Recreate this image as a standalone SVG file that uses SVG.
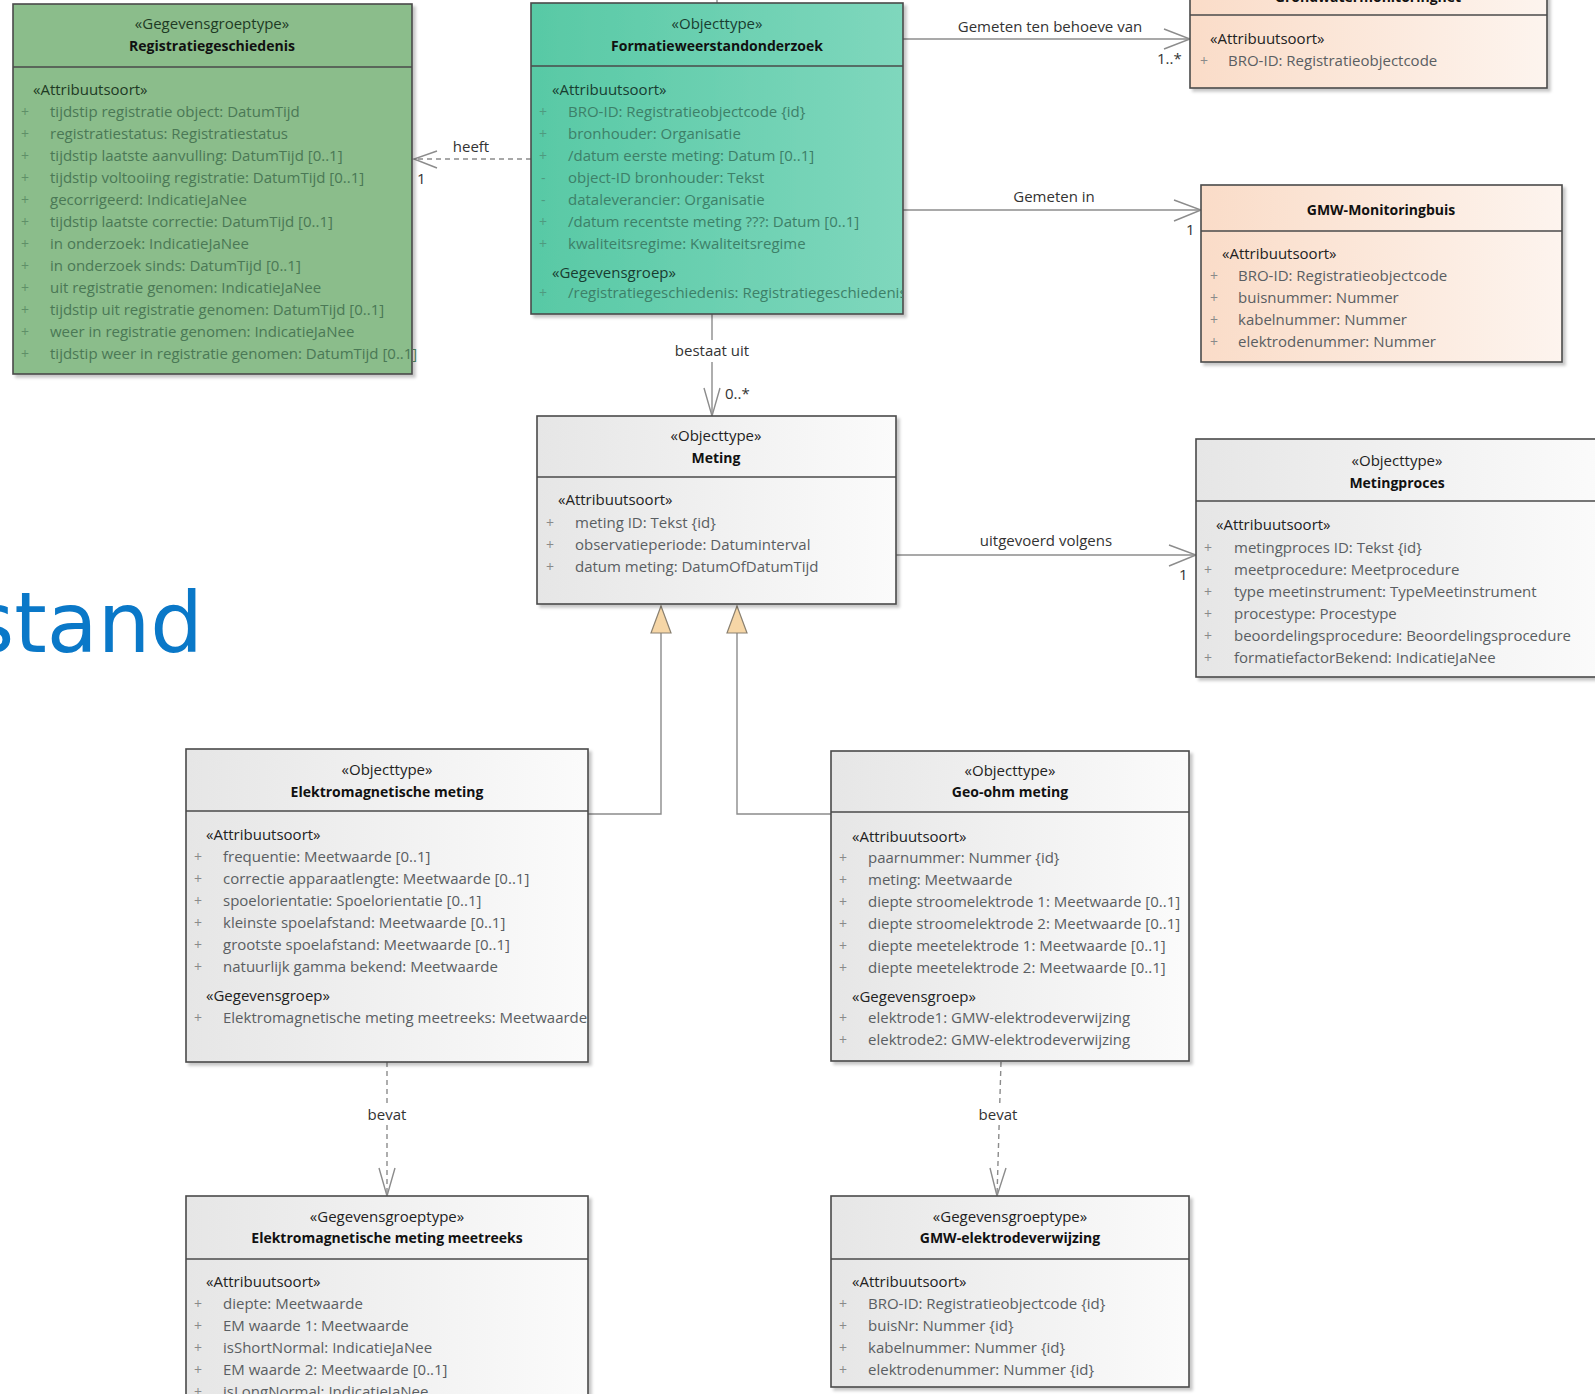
<svg xmlns="http://www.w3.org/2000/svg" width="1595" height="1394" viewBox="0 0 1595 1394">
  <defs>
    <linearGradient id="gGray" x1="0" y1="0" x2="1" y2="0">
      <stop offset="0" stop-color="#e6e6e6"/>
      <stop offset="1" stop-color="#fbfbfb"/>
    </linearGradient>
    <linearGradient id="gTeal" x1="0" y1="0" x2="1" y2="0">
      <stop offset="0" stop-color="#58c9a5"/>
      <stop offset="1" stop-color="#7fd7bd"/>
    </linearGradient>
    <linearGradient id="gPeach" x1="0" y1="0" x2="1" y2="0">
      <stop offset="0" stop-color="#fadcc8"/>
      <stop offset="1" stop-color="#fdf4ee"/>
    </linearGradient>
    <filter id="shadow" x="-5%" y="-5%" width="115%" height="115%">
      <feDropShadow dx="3" dy="3" stdDeviation="1.8" flood-color="#000" flood-opacity="0.22"/>
    </filter>
    <clipPath id="clipForm"><rect x="531" y="0" width="372" height="320"/></clipPath>
  </defs>
  <style>
    text { font-family: "Open Sans", "Noto Sans", "DejaVu Sans", sans-serif; }
    .box { stroke: #4a4a4a; stroke-width: 1.6; filter: url(#shadow); }
    .sep { stroke: #4a4a4a; stroke-width: 1.5; }
    .st { font-size: 15px; fill: #222; text-anchor: middle; }
    .nm { font-size: 14px; font-weight: bold; fill: #111; text-anchor: middle; }
    .sec { font-size: 15px; fill: #222; }
    .at { font-size: 15px; fill: #5a5e62; }
    .pl { font-size: 14px; fill: #8a8a8a; }
    .green .at { fill: #4a7855; }
    .green .pl { fill: #5f8f68; }
    .green .sec, .green .st { fill: #1e3a24; }
    .teal .at { fill: #3d8068; }
    .teal .pl { fill: #4f9a80; }
    .teal .sec, .teal .st { fill: #183d31; }
    .lbl { font-size: 15px; fill: #333; }
    .mid { text-anchor: middle; }
    .lblbg { fill: #ffffff; }
    .ln { stroke: #8c8c8c; stroke-width: 1.4; fill: none; }
    .dash { stroke-dasharray: 5 4; }
    .gen { fill: #f6d6a6; stroke: #8a8070; stroke-width: 1.2; }
    .title { font-family: "DejaVu Sans", Verdana, sans-serif; font-size: 83px; fill: #0a78c8; }
  </style>

  <rect width="1595" height="1394" fill="#ffffff"/>

  <!-- slide title, cut at the left edge -->
  <text class="title" x="203" y="652" text-anchor="end">stand</text>

  <!-- connectors -->
  <g id="connectors">
    <!-- stub above Formatieweerstandonderzoek -->
    <line class="ln" x1="717" y1="0" x2="717" y2="3"/>
    <!-- heeft -->
    <line class="ln dash" x1="531" y1="159" x2="414" y2="159"/>
    <polyline class="ln" points="437,151 414,159 437,168"/>
    <text class="lbl mid" x="471" y="152">heeft</text>
    <text class="lbl" x="417" y="184">1</text>
    <!-- Gemeten ten behoeve van -->
    <line class="ln" x1="903" y1="39" x2="1190" y2="39"/>
    <polyline class="ln" points="1164,29 1190,39 1164,49"/>
    <text class="lbl mid" x="1050" y="32">Gemeten ten behoeve van</text>
    <text class="lbl" x="1157" y="64">1..*</text>
    <!-- Gemeten in -->
    <line class="ln" x1="903" y1="210" x2="1201" y2="210"/>
    <polyline class="ln" points="1174,200 1201,210 1174,221"/>
    <text class="lbl mid" x="1054" y="202">Gemeten in</text>
    <text class="lbl" x="1186" y="235">1</text>
    <!-- bestaat uit -->
    <line class="ln" x1="712" y1="314" x2="712" y2="416"/>
    <polyline class="ln" points="704,388 712,416 720,388"/>
    <rect class="lblbg" x="674" y="340" width="76" height="22"/>
    <text class="lbl mid" x="712" y="356">bestaat uit</text>
    <text class="lbl" x="725" y="399">0..*</text>
    <!-- uitgevoerd volgens -->
    <line class="ln" x1="896" y1="555" x2="1196" y2="555"/>
    <polyline class="ln" points="1169,545 1196,555 1169,566"/>
    <text class="lbl mid" x="1046" y="546">uitgevoerd volgens</text>
    <text class="lbl" x="1179" y="580">1</text>
    <!-- generalisations -->
    <polyline class="ln" points="588,814 661,814 661,633"/>
    <polygon class="gen" points="661,606 651,633 671,633"/>
    <polyline class="ln" points="831,814 737,814 737,633"/>
    <polygon class="gen" points="737,606 727,633 747,633"/>
    <!-- bevat (left) -->
    <line class="ln dash" x1="387" y1="1062" x2="387" y2="1196"/>
    <polyline class="ln" points="379,1168 387,1196 395,1168"/>
    <rect class="lblbg" x="366" y="1105" width="42" height="20"/>
    <text class="lbl mid" x="387" y="1120">bevat</text>
    <!-- bevat (right) -->
    <line class="ln dash" x1="1001" y1="1062" x2="997" y2="1196"/>
    <polyline class="ln" points="990,1168 997,1196 1006,1168"/>
    <rect class="lblbg" x="977" y="1105" width="42" height="20"/>
    <text class="lbl mid" x="998" y="1120">bevat</text>
  </g>

  <!-- Registratiegeschiedenis -->
  <g id="registratiegeschiedenis" class="green">
    <rect class="box" x="13" y="4" width="399" height="370" fill="#8bbd8b"/>
    <line class="sep" x1="13" y1="67" x2="412" y2="67"/>
    <text class="st" x="212" y="29">«Gegevensgroeptype»</text>
    <text class="nm" x="212" y="51">Registratiegeschiedenis</text>
    <text class="sec" x="33" y="95">«Attribuutsoort»</text>
    <g class="pl">
      <text x="21" y="117">+</text><text x="21" y="139">+</text><text x="21" y="161">+</text>
      <text x="21" y="183">+</text><text x="21" y="205">+</text><text x="21" y="227">+</text>
      <text x="21" y="249">+</text><text x="21" y="271">+</text><text x="21" y="293">+</text>
      <text x="21" y="315">+</text><text x="21" y="337">+</text><text x="21" y="359">+</text>
    </g>
    <g class="at">
      <text x="50" y="117">tijdstip registratie object: DatumTijd</text>
      <text x="50" y="139">registratiestatus: Registratiestatus</text>
      <text x="50" y="161">tijdstip laatste aanvulling: DatumTijd [0..1]</text>
      <text x="50" y="183">tijdstip voltooiing registratie: DatumTijd [0..1]</text>
      <text x="50" y="205">gecorrigeerd: IndicatieJaNee</text>
      <text x="50" y="227">tijdstip laatste correctie: DatumTijd [0..1]</text>
      <text x="50" y="249">in onderzoek: IndicatieJaNee</text>
      <text x="50" y="271">in onderzoek sinds: DatumTijd [0..1]</text>
      <text x="50" y="293">uit registratie genomen: IndicatieJaNee</text>
      <text x="50" y="315">tijdstip uit registratie genomen: DatumTijd [0..1]</text>
      <text x="50" y="337">weer in registratie genomen: IndicatieJaNee</text>
      <text x="50" y="359">tijdstip weer in registratie genomen: DatumTijd [0..1]</text>
    </g>
  </g>

  <!-- Formatieweerstandonderzoek -->
  <g id="formatieweerstandonderzoek" class="teal">
    <rect class="box" x="531" y="3" width="372" height="311" fill="url(#gTeal)"/>
    <line class="sep" x1="531" y1="66" x2="903" y2="66"/>
    <text class="st" x="717" y="29">«Objecttype»</text>
    <text class="nm" x="717" y="51">Formatieweerstandonderzoek</text>
    <text class="sec" x="552" y="95">«Attribuutsoort»</text>
    <g class="pl">
      <text x="539" y="117">+</text><text x="539" y="139">+</text><text x="539" y="161">+</text>
      <text x="541" y="183">-</text><text x="541" y="205">-</text><text x="539" y="227">+</text>
      <text x="539" y="249">+</text><text x="539" y="298">+</text>
    </g>
    <g class="at">
      <text x="568" y="117">BRO-ID: Registratieobjectcode {id}</text>
      <text x="568" y="139">bronhouder: Organisatie</text>
      <text x="568" y="161">/datum eerste meting: Datum [0..1]</text>
      <text x="568" y="183">object-ID bronhouder: Tekst</text>
      <text x="568" y="205">dataleverancier: Organisatie</text>
      <text x="568" y="227">/datum recentste meting ???: Datum [0..1]</text>
      <text x="568" y="249">kwaliteitsregime: Kwaliteitsregime</text>
      <text x="568" y="298" clip-path="url(#clipForm)">/registratiegeschiedenis: Registratiegeschiedenis</text>
    </g>
    <text class="sec" x="552" y="278">«Gegevensgroep»</text>
  </g>

  <!-- Grondwatermonitoringnet -->
  <g id="grondwatermonitoringnet">
    <rect class="box" x="1190" y="-40" width="357" height="128" fill="url(#gPeach)"/>
    <line class="sep" x1="1190" y1="15" x2="1547" y2="15"/>
    <text class="nm" x="1368" y="2">Grondwatermonitoringnet</text>
    <text class="sec" x="1210" y="44">«Attribuutsoort»</text>
    <text class="pl" x="1200" y="66">+</text>
    <text class="at" x="1228" y="66">BRO-ID: Registratieobjectcode</text>
  </g>

  <!-- GMW-Monitoringbuis -->
  <g id="gmw-monitoringbuis">
    <rect class="box" x="1201" y="185" width="361" height="177" fill="url(#gPeach)"/>
    <line class="sep" x1="1201" y1="231" x2="1562" y2="231"/>
    <text class="nm" x="1381" y="215">GMW-Monitoringbuis</text>
    <text class="sec" x="1222" y="259">«Attribuutsoort»</text>
    <g class="pl">
      <text x="1210" y="281">+</text><text x="1210" y="303">+</text>
      <text x="1210" y="325">+</text><text x="1210" y="347">+</text>
    </g>
    <g class="at">
      <text x="1238" y="281">BRO-ID: Registratieobjectcode</text>
      <text x="1238" y="303">buisnummer: Nummer</text>
      <text x="1238" y="325">kabelnummer: Nummer</text>
      <text x="1238" y="347">elektrodenummer: Nummer</text>
    </g>
  </g>

  <!-- Meting -->
  <g id="meting">
    <rect class="box" x="537" y="416" width="359" height="188" fill="url(#gGray)"/>
    <line class="sep" x1="537" y1="477" x2="896" y2="477"/>
    <text class="st" x="716" y="441">«Objecttype»</text>
    <text class="nm" x="716" y="463">Meting</text>
    <text class="sec" x="558" y="505">«Attribuutsoort»</text>
    <g class="pl">
      <text x="546" y="528">+</text><text x="546" y="550">+</text><text x="546" y="572">+</text>
    </g>
    <g class="at">
      <text x="575" y="528">meting ID: Tekst {id}</text>
      <text x="575" y="550">observatieperiode: Datuminterval</text>
      <text x="575" y="572">datum meting: DatumOfDatumTijd</text>
    </g>
  </g>

  <!-- Metingproces -->
  <g id="metingproces">
    <rect class="box" x="1196" y="439" width="410" height="238" fill="url(#gGray)"/>
    <line class="sep" x1="1196" y1="501" x2="1606" y2="501"/>
    <text class="st" x="1397" y="466">«Objecttype»</text>
    <text class="nm" x="1397" y="488">Metingproces</text>
    <text class="sec" x="1216" y="530">«Attribuutsoort»</text>
    <g class="pl">
      <text x="1204" y="553">+</text><text x="1204" y="575">+</text><text x="1204" y="597">+</text>
      <text x="1204" y="619">+</text><text x="1204" y="641">+</text><text x="1204" y="663">+</text>
    </g>
    <g class="at">
      <text x="1234" y="553">metingproces ID: Tekst {id}</text>
      <text x="1234" y="575">meetprocedure: Meetprocedure</text>
      <text x="1234" y="597">type meetinstrument: TypeMeetinstrument</text>
      <text x="1234" y="619">procestype: Procestype</text>
      <text x="1234" y="641">beoordelingsprocedure: Beoordelingsprocedure</text>
      <text x="1234" y="663">formatiefactorBekend: IndicatieJaNee</text>
    </g>
  </g>

  <!-- Elektromagnetische meting -->
  <g id="elektromagnetische-meting">
    <rect class="box" x="186" y="749" width="402" height="313" fill="url(#gGray)"/>
    <line class="sep" x1="186" y1="811" x2="588" y2="811"/>
    <text class="st" x="387" y="775">«Objecttype»</text>
    <text class="nm" x="387" y="797">Elektromagnetische meting</text>
    <text class="sec" x="206" y="840">«Attribuutsoort»</text>
    <g class="pl">
      <text x="194" y="862">+</text><text x="194" y="884">+</text><text x="194" y="906">+</text>
      <text x="194" y="928">+</text><text x="194" y="950">+</text><text x="194" y="972">+</text>
      <text x="194" y="1023">+</text>
    </g>
    <g class="at">
      <text x="223" y="862">frequentie: Meetwaarde [0..1]</text>
      <text x="223" y="884">correctie apparaatlengte: Meetwaarde [0..1]</text>
      <text x="223" y="906">spoelorientatie: Spoelorientatie [0..1]</text>
      <text x="223" y="928">kleinste spoelafstand: Meetwaarde [0..1]</text>
      <text x="223" y="950">grootste spoelafstand: Meetwaarde [0..1]</text>
      <text x="223" y="972">natuurlijk gamma bekend: Meetwaarde</text>
      <text x="223" y="1023">Elektromagnetische meting meetreeks: Meetwaarde</text>
    </g>
    <text class="sec" x="206" y="1001">«Gegevensgroep»</text>
  </g>

  <!-- Geo-ohm meting -->
  <g id="geo-ohm-meting">
    <rect class="box" x="831" y="751" width="358" height="310" fill="url(#gGray)"/>
    <line class="sep" x1="831" y1="812" x2="1189" y2="812"/>
    <text class="st" x="1010" y="776">«Objecttype»</text>
    <text class="nm" x="1010" y="797">Geo-ohm meting</text>
    <text class="sec" x="852" y="842">«Attribuutsoort»</text>
    <g class="pl">
      <text x="839" y="863">+</text><text x="839" y="885">+</text><text x="839" y="907">+</text>
      <text x="839" y="929">+</text><text x="839" y="951">+</text><text x="839" y="973">+</text>
      <text x="839" y="1023">+</text><text x="839" y="1045">+</text>
    </g>
    <g class="at">
      <text x="868" y="863">paarnummer: Nummer {id}</text>
      <text x="868" y="885">meting: Meetwaarde</text>
      <text x="868" y="907">diepte stroomelektrode 1: Meetwaarde [0..1]</text>
      <text x="868" y="929">diepte stroomelektrode 2: Meetwaarde [0..1]</text>
      <text x="868" y="951">diepte meetelektrode 1: Meetwaarde [0..1]</text>
      <text x="868" y="973">diepte meetelektrode 2: Meetwaarde [0..1]</text>
      <text x="868" y="1023">elektrode1: GMW-elektrodeverwijzing</text>
      <text x="868" y="1045">elektrode2: GMW-elektrodeverwijzing</text>
    </g>
    <text class="sec" x="852" y="1002">«Gegevensgroep»</text>
  </g>

  <!-- Elektromagnetische meting meetreeks -->
  <g id="elektromagnetische-meting-meetreeks">
    <rect class="box" x="186" y="1196" width="402" height="230" fill="url(#gGray)"/>
    <line class="sep" x1="186" y1="1259" x2="588" y2="1259"/>
    <text class="st" x="387" y="1222">«Gegevensgroeptype»</text>
    <text class="nm" x="387" y="1243">Elektromagnetische meting meetreeks</text>
    <text class="sec" x="206" y="1287">«Attribuutsoort»</text>
    <g class="pl">
      <text x="194" y="1309">+</text><text x="194" y="1331">+</text><text x="194" y="1353">+</text>
      <text x="194" y="1375">+</text><text x="194" y="1397">+</text>
    </g>
    <g class="at">
      <text x="223" y="1309">diepte: Meetwaarde</text>
      <text x="223" y="1331">EM waarde 1: Meetwaarde</text>
      <text x="223" y="1353">isShortNormal: IndicatieJaNee</text>
      <text x="223" y="1375">EM waarde 2: Meetwaarde [0..1]</text>
      <text x="223" y="1397">isLongNormal: IndicatieJaNee</text>
    </g>
  </g>

  <!-- GMW-elektrodeverwijzing -->
  <g id="gmw-elektrodeverwijzing">
    <rect class="box" x="831" y="1196" width="358" height="191" fill="url(#gGray)"/>
    <line class="sep" x1="831" y1="1259" x2="1189" y2="1259"/>
    <text class="st" x="1010" y="1222">«Gegevensgroeptype»</text>
    <text class="nm" x="1010" y="1243">GMW-elektrodeverwijzing</text>
    <text class="sec" x="852" y="1287">«Attribuutsoort»</text>
    <g class="pl">
      <text x="839" y="1309">+</text><text x="839" y="1331">+</text>
      <text x="839" y="1353">+</text><text x="839" y="1375">+</text>
    </g>
    <g class="at">
      <text x="868" y="1309">BRO-ID: Registratieobjectcode {id}</text>
      <text x="868" y="1331">buisNr: Nummer {id}</text>
      <text x="868" y="1353">kabelnummer: Nummer {id}</text>
      <text x="868" y="1375">elektrodenummer: Nummer {id}</text>
    </g>
  </g>
</svg>
